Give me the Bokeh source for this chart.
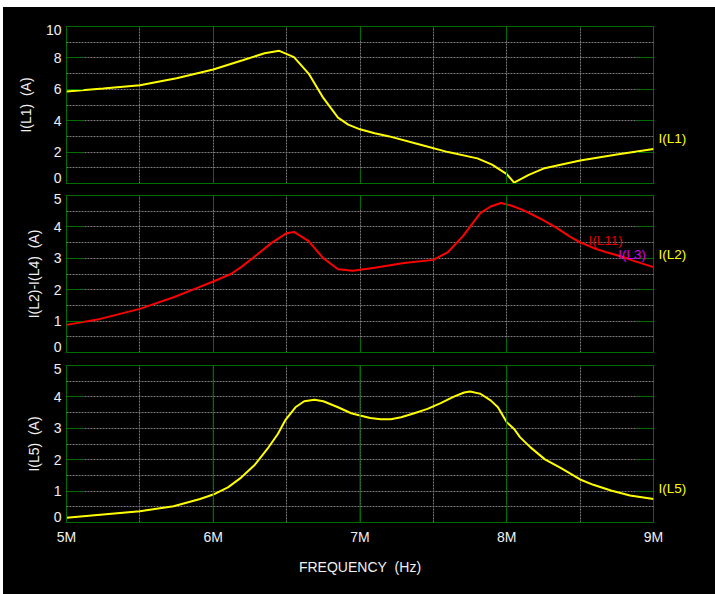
from bokeh.plotting import figure
from bokeh.layouts import column
from bokeh.models import (Range1d, LinearAxis, SingleIntervalTicker, FixedTicker,
                          Grid, Label, Span)
from bokeh.embed import file_html
from bokeh.resources import INLINE

# Frequency sweep, in MHz
freq_l1 = [5.0, 5.25, 5.5, 5.75, 6.0, 6.2, 6.35, 6.45, 6.55, 6.65, 6.75, 6.85,
           6.92, 7.0, 7.1, 7.2, 7.4, 7.6, 7.8, 7.9, 8.0, 8.05, 8.15, 8.25, 8.5,
           8.75, 9.0]
i_l1 = [5.86, 6.05, 6.26, 6.7, 7.26, 7.85, 8.3, 8.45, 8.05, 7.0, 5.45, 4.2,
        3.75, 3.45, 3.2, 3.0, 2.5, 2.0, 1.6, 1.2, 0.6, 0.05, 0.55, 0.95, 1.46,
        1.85, 2.2]

freq_l2 = [5.0, 5.23, 5.5, 5.73, 5.87, 6.0, 6.12, 6.19, 6.3, 6.4, 6.5, 6.55, 6.65,
           6.75, 6.85, 6.95, 7.1, 7.3, 7.5, 7.6, 7.7, 7.82, 7.89, 7.96, 8.03, 8.12,
           8.23, 8.34, 8.43, 8.5, 8.59, 8.68, 8.78, 8.87, 9.0]
i_l2_l4 = [0.88, 1.07, 1.39, 1.76, 2.02, 2.26, 2.5, 2.72, 3.12, 3.5, 3.8, 3.84, 3.55,
           3.0, 2.65, 2.6, 2.7, 2.85, 2.95, 3.2, 3.7, 4.44, 4.65, 4.76, 4.68, 4.52,
           4.26, 3.97, 3.69, 3.51, 3.33, 3.19, 3.06, 2.91, 2.72]

freq_l5 = [5.0, 5.23, 5.5, 5.73, 5.91, 6.0, 6.1, 6.19, 6.28, 6.37, 6.44, 6.49, 6.56,
           6.62, 6.69, 6.75, 6.85, 6.94, 7.0, 7.07, 7.14, 7.21, 7.28, 7.37, 7.46,
           7.55, 7.64, 7.71, 7.75, 7.8, 7.82, 7.89, 7.94, 8.0, 8.05, 8.09, 8.16,
           8.26, 8.37, 8.5, 8.59, 8.71, 8.84, 9.0]
i_l5 = [0.15, 0.25, 0.36, 0.52, 0.75, 0.89, 1.12, 1.43, 1.82, 2.35, 2.82, 3.25, 3.67,
        3.86, 3.91, 3.86, 3.67, 3.48, 3.41, 3.33, 3.29, 3.29, 3.35, 3.48, 3.62,
        3.8, 4.01, 4.14, 4.17, 4.12, 4.1, 3.89, 3.67, 3.19, 2.98, 2.72, 2.4,
        2.01, 1.73, 1.37, 1.2, 1.02, 0.86, 0.75]

x_tick_labels = {5: "5M", 6: "6M", 7: "7M", 8: "8M", 9: "9M"}

# y tick labels; the end labels sit just inside the plot box
y_labels_l1 = {0.35: "0", 2: "2", 4: "4", 6: "6", 8: "8", 9.78: "10"}
y_labels_5 = {0.17: "0", 1: "1", 2: "2", 3: "3", 4: "4", 4.88: "5"}

FONT = "Liberation Sans"
GREEN = "#006e00"
GRID_GRAY = "#7a7a7a"
TEXT = "#f0f0f0"
YELLOW = "#ffff00"
RED = "#ff0000"
TRACE_FONT_SIZE = "13.5px"

x_range = Range1d(5, 9)


def tick_only_axis(ticker, length):
    return LinearAxis(ticker=ticker, axis_line_color=None,
                      major_tick_in=length, major_tick_out=0,
                      major_tick_line_color=GREEN, minor_tick_line_color=None,
                      major_label_text_color=None, major_label_standoff=0)


def make_panel(height, top, bottom, ymax, ymajor, yminor, ylabel, ylabels,
               trace_name, trace_y, trace_color, show_x):
    p = figure(width=712, height=height, x_range=x_range, y_range=Range1d(0, ymax),
               output_backend="svg", toolbar_location=None,
               x_axis_location=None, y_axis_location=None,
               min_border_left=63, min_border_right=62,
               min_border_top=top, min_border_bottom=bottom,
               background_fill_color="black", border_fill_color="black",
               outline_line_color=GREEN, outline_line_width=1)

    for g in p.grid:
        g.visible = False
    for dim, step in ((0, 0.5), (1, yminor)):
        p.add_layout(Grid(dimension=dim, ticker=SingleIntervalTicker(interval=step),
                          grid_line_color=GRID_GRAY, grid_line_dash="2 1",
                          grid_line_width=1), "center")

    # left: green tick marks, then the value labels
    p.add_layout(tick_only_axis(SingleIntervalTicker(interval=ymajor), 17), "left")
    p.add_layout(LinearAxis(ticker=FixedTicker(ticks=list(ylabels.keys())),
                            major_label_overrides=ylabels,
                            axis_line_color=None, major_tick_line_color=None,
                            minor_tick_line_color=None, major_tick_out=0, major_tick_in=0,
                            major_label_standoff=1,
                            major_label_text_font=FONT, major_label_text_font_size="14px",
                            major_label_text_color=TEXT,
                            axis_label=ylabel, axis_label_standoff=9,
                            axis_label_text_font=FONT, axis_label_text_font_size="14px",
                            axis_label_text_font_style="normal",
                            axis_label_text_color=TEXT), "left")

    # right: green tick marks, then the trace name
    p.add_layout(tick_only_axis(SingleIntervalTicker(interval=ymajor), 17), "right")
    p.add_layout(LinearAxis(ticker=FixedTicker(ticks=[trace_y]),
                            major_label_overrides={trace_y: trace_name},
                            axis_line_color=None, major_tick_line_color=None,
                            minor_tick_line_color=None, major_tick_out=0, major_tick_in=0,
                            major_label_standoff=1,
                            major_label_text_font=FONT,
                            major_label_text_font_size=TRACE_FONT_SIZE,
                            major_label_text_color=trace_color), "right")

    p.add_layout(tick_only_axis(SingleIntervalTicker(interval=1), 14), "above")
    if show_x:
        p.add_layout(LinearAxis(ticker=SingleIntervalTicker(interval=1),
                                major_label_overrides=x_tick_labels,
                                axis_line_color=GREEN, major_tick_in=14, major_tick_out=0,
                                major_tick_line_color=GREEN, minor_tick_line_color=None,
                                major_label_standoff=2,
                                major_label_text_font=FONT, major_label_text_font_size="14px",
                                major_label_text_color=TEXT,
                                axis_label="FREQUENCY\u00a0 (Hz)", axis_label_standoff=11,
                                axis_label_text_font=FONT, axis_label_text_font_size="14px",
                                axis_label_text_font_style="normal",
                                axis_label_text_color=TEXT), "below")
    else:
        bx = tick_only_axis(SingleIntervalTicker(interval=1), 14)
        bx.axis_line_color = GREEN
        p.add_layout(bx, "below")
    return p


p1 = make_panel(182, 19, 6, 10, 2, 1, "I(L1)\u00a0 (A)", y_labels_l1,
                "I(L1)", 2.87, YELLOW, False)
p1.line(freq_l1, i_l1, line_color=YELLOW, line_width=2)

p2 = make_panel(169, 6, 6, 5, 1, 0.5, "I(L2)-I(L4)\u00a0 (A)", y_labels_5,
                "I(L2)", 3.12, YELLOW, False)
p2.line(freq_l2, i_l2_l4, line_color=RED, line_width=2)
p2.add_layout(Label(x=8.557, y=3.57, text="I(L11)", text_color="#e00000",
                    text_font=FONT, text_font_size=TRACE_FONT_SIZE, text_baseline="middle"))
p2.add_layout(Label(x=8.76, y=3.12, text="I(L3)", text_color="#d000ff",
                    text_font=FONT, text_font_size=TRACE_FONT_SIZE, text_baseline="middle"))

p3 = make_panel(236, 7, 72, 5, 1, 0.5, "I(L5)\u00a0 (A)", y_labels_5,
                "I(L5)", 1.09, YELLOW, True)
for f in (6, 7, 8):
    p3.add_layout(Span(location=f, dimension="height", line_color=GREEN, line_width=1))
p3.line(freq_l5, i_l5, line_color=YELLOW, line_width=2)

layout = column(p1, p2, p3, margin=(7, 0, 0, 3), styles={"background-color": "black"})

open("out.html", "w").write(file_html(layout, INLINE))
